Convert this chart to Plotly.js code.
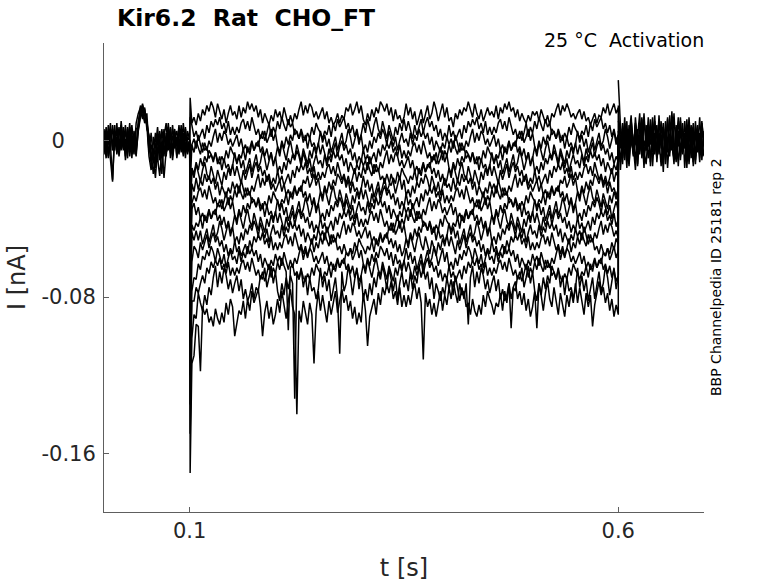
<!DOCTYPE html>
<html>
<head>
<meta charset="utf-8">
<script src="https://cdn.plot.ly/plotly-3.0.1.min.js"></script>
<style>
  html, body { margin: 0; padding: 0; background: #fff; }
  #chart { width: 778px; height: 583px; }
</style>
</head>
<body>
<div id="chart"></div>
<script>
// time in seconds
const tPre = [0,0.0025,0.005,0.0075,0.01,0.0125,0.015,0.0175,0.02,0.0225,0.025,0.0275,0.03,0.0325,0.035,0.0375,0.04,0.0425,0.045,0.0475,
  0.05,0.0525,0.055,0.0575,0.06,0.0625,0.065,0.0675,0.07,0.0725,0.075,0.0775,0.08,0.0825,0.085,0.0875,0.09,0.0925,0.095,0.0975,0.1];

const tStep = [0.1,0.1005,
  0.1025,0.105,0.1075,0.11,0.1125,0.115,0.1175,0.12,0.1225,0.125,
  0.1275,0.13,0.1325,0.135,0.1375,0.14,0.1425,0.145,0.1475,0.15,
  0.1525,0.155,0.1575,0.16,0.1625,0.165,0.1675,0.17,0.1725,0.175,
  0.1775,0.18,0.1825,0.185,0.1875,0.19,0.1925,0.195,0.1975,0.2,
  0.2025,0.205,0.2075,0.21,0.2125,0.215,0.2175,0.22,0.2225,0.225,
  0.2275,0.23,0.2325,0.235,0.2375,0.24,0.2425,0.245,0.2475,0.25,
  0.2525,0.255,0.2575,0.26,0.2625,0.265,0.2675,0.27,0.2725,0.275,
  0.2775,0.28,0.2825,0.285,0.2875,0.29,0.2925,0.295,0.2975,0.3,
  0.3025,0.305,0.3075,0.31,0.3125,0.315,0.3175,0.32,0.3225,0.325,
  0.3275,0.33,0.3325,0.335,0.3375,0.34,0.3425,0.345,0.3475,0.35,
  0.3525,0.355,0.3575,0.36,0.3625,0.365,0.3675,0.37,0.3725,0.375,
  0.3775,0.38,0.3825,0.385,0.3875,0.39,0.3925,0.395,0.3975,0.4,
  0.4025,0.405,0.4075,0.41,0.4125,0.415,0.4175,0.42,0.4225,0.425,
  0.4275,0.43,0.4325,0.435,0.4375,0.44,0.4425,0.445,0.4475,0.45,
  0.4525,0.455,0.4575,0.46,0.4625,0.465,0.4675,0.47,0.4725,0.475,
  0.4775,0.48,0.4825,0.485,0.4875,0.49,0.4925,0.495,0.4975,0.5,
  0.5025,0.505,0.5075,0.51,0.5125,0.515,0.5175,0.52,0.5225,0.525,
  0.5275,0.53,0.5325,0.535,0.5375,0.54,0.5425,0.545,0.5475,0.55,
  0.5525,0.555,0.5575,0.56,0.5625,0.565,0.5675,0.57,0.5725,0.575,
  0.5775,0.58,0.5825,0.585,0.5875,0.59,0.5925,0.595,0.5975,0.6,
  0.6];

const tPost = [0.6,0.6025,0.605,0.6075,0.61,0.6125,0.615,0.6175,0.62,0.6225,0.625,0.6275,0.63,0.6325,0.635,0.6375,0.64,0.6425,0.645,0.6475,
  0.65,0.6525,0.655,0.6575,0.66,0.6625,0.665,0.6675,0.67,0.6725,0.675,0.6775,0.68,0.6825,0.685,0.6875,0.69,0.6925,0.695,0.6975,0.7];

// current in pA before the step (overlapping sweeps)
const pre1_pA = [3,-6,8,-2,-20,5,-4,7,-3,2,-8,6,-1,4,-7,9,14,17,12,16,9,-3,-12,-7,4,-9,-18,-5,6,-8,3,-6,8,-4,2,-7,5,-3,7,-6,0];
const pre2_pA = [-4,7,-8,3,6,-5,9,-7,4,-2,8,-6,3,-9,5,-4,8,18,15,9,11,-6,4,-10,-3,7,-5,-17,2,9,-5,6,-8,4,-3,8,-6,3,-9,5,0];
const pre3_pA = [6,-3,2,-10,-21,4,-6,3,8,-5,1,-9,7,-3,2,-6,5,12,18,14,10,2,-9,-4,-14,3,-6,-2,-19,-5,7,-9,2,6,-8,1,-5,9,-2,-7,0];
const pre4_pA = [-7,4,-2,9,-5,-1,6,-8,2,-4,5,-2,9,-6,1,-3,10,15,19,13,8,-8,-15,2,-6,-11,5,-3,-8,4,-2,7,-5,3,-9,6,-1,4,-6,2,0];
const pre5_pA = [1,-9,5,-5,8,-3,2,-6,10,-1,-4,7,-8,2,-5,6,7,16,11,17,6,3,-6,-17,-9,2,-10,6,-4,-2,9,-3,-7,5,-1,-5,8,-8,3,-3,0];
const pre6_pA = [-2,5,-9,6,-3,8,-7,1,-5,7,-10,3,-4,8,-2,-8,6,13,16,10,14,-5,-2,-9,-19,-4,1,-8,3,-6,-3,4,-10,1,5,-4,2,-7,6,-5,0];

// current in pA after the step back
const post1_pA = [31,8,-6,12,-9,4,13,-7,2,-12,9,-3,14,-5,6,-11,3,10,-8,1,-13,7,-4,11,-6,2,-10,8,-3,12,-7,4,-14,6,-2,9,-8,3,-11,5,-1];
const post2_pA = [0,-11,6,-4,10,-13,3,-8,12,-2,-7,5,-14,8,-3,11,-6,2,-9,13,-4,7,-12,1,9,-5,14,-8,3,-10,6,-1,11,-7,4,-13,2,8,-5,10,-3];
const post3_pA = [5,-15,2,9,-6,-12,7,1,-10,4,14,-9,0,-5,12,-13,6,-2,8,-7,3,-16,10,-4,-8,15,-1,-11,5,-6,9,-14,2,7,-9,3,-12,6,-4,1,-8];
const post4_pA = [18,-4,9,-10,5,-2,11,-6,8,-13,3,-7,10,-1,-9,6,-4,13,-11,4,-2,9,-8,12,-5,1,-12,7,-1,10,-6,3,-9,12,-4,7,-10,2,-7,9,-2];
const post5_pA = [10,6,-9,3,-14,8,-1,-5,9,-8,2,11,-6,-12,4,-2,12,-7,5,-3,10,-10,1,-6,13,-3,-9,4,-13,6,-4,10,-6,-1,8,-11,5,-3,12,-8,3];
const post6_pA = [-5,3,-12,7,1,-8,10,-3,-15,6,-5,12,-9,3,-1,8,-13,4,-6,11,-2,-7,6,-14,3,9,-5,-2,12,-8,1,-4,7,-12,2,-9,10,-6,4,-10,5];

// current in pA during the activation step, one array per sweep
const sweep01_pA = [0,22,
  9,12,8,14,10,16,13,18,15,20,17,12,19,15,11,16,9,14,18,13,
  15,11,18,12,17,14,20,16,19,15,18,12,16,9,14,11,8,13,10,16,
  12,15,10,17,12,8,13,9,14,11,16,20,13,18,14,19,17,12,15,11,
  14,17,11,15,9,12,8,10,14,9,13,11,17,15,19,13,16,20,14,18,
  11,8,14,10,16,12,17,14,20,18,15,19,13,17,10,16,11,13,9,12,
  19,13,17,11,15,8,12,16,9,13,18,11,14,20,16,10,15,19,12,17,
  10,12,7,14,11,16,13,17,15,20,16,12,19,14,11,16,10,14,17,13,
  15,12,18,11,17,14,19,16,20,15,17,12,16,10,14,11,9,13,10,15,
  13,15,10,16,12,9,13,8,14,12,16,19,13,18,15,19,16,12,14,11,
  14,16,11,15,10,12,8,11,14,9,13,12,17,14,19,13,16,19,14,17,0];
const sweep02_pA = [0,12,
  8,2,5,0,3,6,1,8,4,10,7,11,8,12,6,9,4,10,3,7,
  3,7,4,9,11,6,10,5,12,8,3,6,1,5,0,4,9,2,7,4,
  10,6,12,8,5,11,7,9,3,5,1,6,2,0,4,1,7,3,9,6,
  4,1,5,3,8,2,9,5,11,7,10,12,6,9,4,8,2,6,0,3,
  9,4,11,7,2,8,12,6,3,10,5,1,8,4,0,7,3,9,5,11,
  5,10,6,1,8,3,7,11,4,9,12,7,10,5,8,2,6,0,4,1,
  8,2,5,0,3,6,1,8,4,10,7,11,8,12,6,9,4,10,3,7,
  3,7,4,9,11,6,10,5,12,8,3,6,1,5,0,4,9,2,7,4,
  10,6,12,8,5,11,7,9,3,5,1,6,2,0,4,1,7,3,9,6,
  4,1,5,3,8,2,9,5,11,7,10,12,6,9,4,8,2,6,0,3,0];
const sweep03_pA = [0,-10,
  -2,1,-4,3,-2,-6,-1,-5,0,-3,2,6,-1,4,0,5,3,-2,1,-3,
  0,3,-3,1,-5,-2,-6,-4,0,-5,-1,-3,3,1,5,-1,2,6,0,4,
  -3,-6,0,-4,2,-2,3,0,6,4,1,5,-1,3,-4,2,-3,-1,-5,-2,
  5,-1,3,-3,1,-6,-2,2,-5,-1,4,-3,0,6,2,-4,1,5,-2,3,
  -5,-2,-6,0,-4,2,-1,4,1,6,3,-2,5,1,-3,2,-5,0,4,-1,
  1,-3,4,-2,3,0,6,2,5,1,4,-2,2,-5,0,-3,-6,-1,-4,2,
  -2,1,-4,3,-2,-6,-1,-5,0,-3,2,6,-1,4,0,5,3,-2,1,-3,
  0,3,-3,1,-5,-2,-6,-4,0,-5,-1,-3,3,1,5,-1,2,6,0,4,
  -3,-6,0,-4,2,-2,3,0,6,4,1,5,-1,3,-4,2,-3,-1,-5,-2,
  5,-1,3,-3,1,-6,-2,2,-5,-1,4,-3,0,6,2,-4,1,5,-2,3,0];
const sweep04_pA = [0,-25,
  -2,-6,0,-4,-7,-1,-5,-3,-9,-7,-11,-6,-10,-12,-8,-11,-5,-9,-3,-6,
  -8,-11,-7,-9,-4,-10,-3,-7,-1,-5,-2,0,-6,-3,-8,-4,-10,-6,-12,-9,
  -3,-8,-1,-5,-10,-4,0,-6,-9,-2,-7,-11,-4,-8,-12,-5,-9,-3,-7,-1,
  -7,-2,-6,-11,-4,-9,-5,-1,-8,-3,0,-5,-2,-7,-4,-10,-6,-12,-8,-11,
  -4,-10,-7,-12,-9,-6,-11,-4,-8,-2,-5,-1,-4,0,-6,-3,-8,-2,-9,-5,
  -9,-5,-8,-3,-1,-6,-2,-7,0,-4,-9,-6,-11,-7,-12,-8,-3,-10,-5,-8,
  -2,-6,0,-4,-7,-1,-5,-3,-9,-7,-11,-6,-10,-12,-8,-11,-5,-9,-3,-6,
  -8,-11,-7,-9,-4,-10,-3,-7,-1,-5,-2,0,-6,-3,-8,-4,-10,-6,-12,-9,
  -3,-8,-1,-5,-10,-4,0,-6,-9,-2,-7,-11,-4,-8,-12,-5,-9,-3,-7,-1,
  -7,-2,-6,-11,-4,-9,-5,-1,-8,-3,0,-5,-2,-7,-4,-10,-6,-12,-8,-11,0];
const sweep05_pA = [0,-35,
  -14,-17,-11,-15,-9,-13,-8,-11,-5,-7,-10,-6,-12,-8,-15,-9,-14,-12,-16,-13,
  -6,-12,-8,-14,-10,-17,-13,-9,-16,-12,-7,-14,-11,-5,-9,-15,-10,-6,-13,-8,
  -16,-13,-17,-11,-15,-9,-12,-7,-10,-5,-8,-13,-6,-10,-14,-9,-16,-11,-7,-12,
  -10,-14,-7,-13,-8,-11,-5,-9,-6,-10,-7,-13,-9,-16,-11,-14,-17,-12,-15,-9,
  -13,-10,-15,-8,-13,-17,-12,-16,-11,-14,-9,-5,-12,-7,-11,-6,-8,-13,-10,-14,
  -11,-8,-14,-10,-16,-13,-17,-15,-11,-16,-12,-14,-8,-10,-6,-12,-9,-5,-11,-7,
  -14,-17,-11,-15,-9,-13,-8,-11,-5,-7,-10,-6,-12,-8,-15,-9,-14,-12,-16,-13,
  -6,-12,-8,-14,-10,-17,-13,-9,-16,-12,-7,-14,-11,-5,-9,-15,-10,-6,-13,-8,
  -16,-13,-17,-11,-15,-9,-12,-7,-10,-5,-8,-13,-6,-10,-14,-9,-16,-11,-7,-12,
  -10,-14,-7,-13,-8,-11,-5,-9,-6,-10,-7,-13,-9,-16,-11,-14,-17,-12,-15,-9,0];
const sweep06_pA = [0,-45,
  -14,-19,-12,-16,-21,-15,-11,-17,-20,-13,-18,-22,-15,-19,-23,-16,-20,-14,-18,-12,
  -18,-13,-17,-22,-15,-20,-16,-12,-19,-14,-11,-16,-13,-18,-15,-21,-17,-23,-19,-22,
  -15,-21,-18,-23,-20,-17,-22,-15,-19,-13,-16,-12,-15,-11,-17,-14,-19,-13,-20,-16,
  -20,-16,-19,-14,-12,-17,-13,-18,-11,-15,-20,-17,-22,-18,-23,-19,-14,-21,-16,-19,
  -13,-17,-11,-15,-18,-12,-16,-14,-20,-18,-22,-17,-21,-23,-19,-22,-16,-20,-14,-17,
  -19,-22,-18,-20,-15,-21,-14,-18,-12,-16,-13,-11,-17,-14,-19,-15,-21,-17,-23,-20,
  -14,-19,-12,-16,-21,-15,-11,-17,-20,-13,-18,-22,-15,-19,-23,-16,-20,-14,-18,-12,
  -18,-13,-17,-22,-15,-20,-16,-12,-19,-14,-11,-16,-13,-18,-15,-21,-17,-23,-19,-22,
  -15,-21,-18,-23,-20,-17,-22,-15,-19,-13,-16,-12,-15,-11,-17,-14,-19,-13,-20,-16,
  -20,-16,-19,-14,-12,-17,-13,-18,-11,-15,-20,-17,-22,-18,-23,-19,-14,-21,-16,-19,0];
const sweep07_pA = [0,-55,
  -22,-26,-19,-25,-20,-23,-17,-21,-18,-22,-19,-25,-21,-28,-23,-26,-29,-24,-27,-21,
  -25,-22,-27,-20,-25,-29,-24,-28,-23,-26,-21,-17,-24,-19,-23,-18,-20,-25,-22,-26,
  -23,-20,-26,-22,-28,-25,-29,-27,-23,-28,-24,-26,-20,-22,-18,-24,-21,-17,-23,-19,
  -26,-29,-23,-27,-21,-25,-20,-23,-17,-19,-22,-18,-24,-20,-27,-21,-26,-24,-28,-25,
  -18,-24,-20,-26,-22,-29,-25,-21,-28,-24,-19,-26,-23,-17,-21,-27,-22,-18,-25,-20,
  -28,-25,-29,-23,-27,-21,-24,-19,-22,-17,-20,-25,-18,-22,-26,-21,-28,-23,-19,-24,
  -22,-26,-19,-25,-20,-23,-17,-21,-18,-22,-19,-25,-21,-28,-23,-26,-29,-24,-27,-21,
  -25,-22,-27,-20,-25,-29,-24,-28,-23,-26,-21,-17,-24,-19,-23,-18,-20,-25,-22,-26,
  -23,-20,-26,-22,-28,-25,-29,-27,-23,-28,-24,-26,-20,-22,-18,-24,-21,-17,-23,-19,
  -26,-29,-23,-27,-21,-25,-20,-23,-17,-19,-22,-18,-24,-20,-27,-21,-26,-24,-28,-25,0];
const sweep08_pA = [0,-65,
  -32,-28,-31,-26,-24,-29,-25,-30,-23,-27,-32,-29,-34,-30,-35,-31,-26,-33,-28,-31,
  -25,-29,-23,-27,-30,-24,-28,-26,-32,-30,-34,-29,-33,-35,-31,-34,-28,-32,-26,-29,
  -31,-34,-30,-32,-27,-33,-26,-30,-24,-28,-25,-23,-29,-26,-31,-27,-33,-29,-35,-32,
  -26,-31,-24,-28,-33,-27,-23,-29,-32,-25,-30,-34,-27,-31,-35,-28,-32,-26,-30,-24,
  -30,-25,-29,-34,-27,-32,-28,-24,-31,-26,-23,-28,-25,-30,-27,-33,-29,-35,-31,-34,
  -27,-33,-30,-35,-32,-29,-34,-27,-31,-25,-28,-24,-27,-23,-29,-26,-31,-25,-32,-28,
  -32,-28,-31,-26,-24,-29,-25,-30,-23,-27,-32,-29,-34,-30,-35,-31,-26,-33,-28,-31,
  -25,-29,-23,-27,-30,-24,-28,-26,-32,-30,-34,-29,-33,-35,-31,-34,-28,-32,-26,-29,
  -31,-34,-30,-32,-27,-33,-26,-30,-24,-28,-25,-23,-29,-26,-31,-27,-33,-29,-35,-32,
  -26,-31,-24,-28,-33,-27,-23,-29,-32,-25,-30,-34,-27,-31,-35,-28,-32,-26,-30,-24,0];
const sweep09_pA = [0,-75,
  -35,-32,-38,-34,-40,-37,-41,-39,-35,-40,-36,-38,-32,-34,-30,-36,-33,-29,-35,-31,
  -38,-41,-35,-39,-33,-37,-32,-35,-29,-31,-34,-30,-36,-32,-39,-33,-38,-36,-40,-37,
  -30,-36,-32,-38,-34,-41,-37,-33,-40,-36,-31,-38,-35,-29,-33,-39,-34,-30,-37,-32,
  -40,-37,-41,-35,-39,-33,-36,-31,-34,-29,-32,-37,-30,-34,-38,-33,-40,-35,-31,-36,
  -34,-38,-31,-37,-32,-35,-29,-33,-30,-34,-31,-37,-33,-40,-35,-38,-41,-36,-39,-33,
  -37,-34,-39,-32,-37,-41,-36,-40,-35,-38,-33,-29,-36,-31,-35,-30,-32,-37,-34,-38,
  -35,-32,-38,-34,-40,-37,-41,-39,-35,-40,-36,-38,-32,-34,-30,-36,-33,-29,-35,-31,
  -38,-41,-35,-39,-33,-37,-32,-35,-29,-31,-34,-30,-36,-32,-39,-33,-38,-36,-40,-37,
  -30,-36,-32,-38,-34,-41,-37,-33,-40,-36,-31,-38,-35,-29,-33,-39,-34,-30,-37,-32,
  -40,-37,-41,-35,-39,-33,-36,-31,-34,-29,-32,-37,-30,-34,-38,-33,-40,-35,-31,-36,0];
const sweep10_pA = [0,-85,
  -43,-46,-42,-44,-39,-45,-38,-42,-36,-40,-37,-35,-41,-38,-43,-39,-45,-41,-47,-44,
  -38,-43,-36,-40,-45,-39,-35,-41,-44,-37,-42,-46,-39,-43,-47,-40,-44,-38,-42,-36,
  -42,-37,-41,-46,-39,-44,-40,-36,-43,-38,-35,-40,-37,-42,-39,-45,-41,-47,-43,-46,
  -39,-45,-42,-47,-44,-41,-46,-39,-43,-37,-40,-36,-39,-35,-41,-38,-43,-37,-44,-40,
  -44,-40,-43,-38,-36,-41,-37,-42,-35,-39,-44,-41,-46,-42,-47,-43,-38,-45,-40,-43,
  -37,-41,-35,-39,-42,-36,-40,-38,-44,-42,-46,-41,-45,-47,-43,-46,-40,-44,-38,-41,
  -43,-46,-42,-44,-39,-45,-38,-42,-36,-40,-37,-35,-41,-38,-43,-39,-45,-41,-47,-44,
  -38,-43,-36,-40,-45,-39,-35,-41,-44,-37,-42,-46,-39,-43,-47,-40,-44,-38,-42,-36,
  -42,-37,-41,-46,-39,-44,-40,-36,-43,-38,-35,-40,-37,-42,-39,-45,-41,-47,-43,-46,
  -39,-45,-42,-47,-44,-41,-46,-39,-43,-37,-40,-36,-39,-35,-41,-38,-43,-37,-44,-40,0];
const sweep11_pA = [0,-95,
  -47,-51,-46,-51,-46,-53,-49,-45,-52,-48,-43,-50,-47,-41,-45,-51,-46,-42,-49,-44,
  -52,-49,-53,-47,-51,-45,-48,-43,-46,-41,-44,-49,-42,-46,-50,-45,-52,-47,-43,-48,
  -46,-50,-43,-49,-44,-47,-41,-45,-42,-46,-43,-49,-45,-52,-47,-50,-53,-48,-51,-45,
  -49,-46,-51,-44,-49,-53,-48,-52,-47,-50,-45,-41,-48,-43,-47,-42,-44,-49,-46,-50,
  -47,-44,-50,-46,-52,-49,-53,-51,-47,-52,-48,-50,-44,-46,-42,-48,-45,-41,-47,-43,
  -50,-53,-47,-51,-45,-49,-44,-47,-41,-43,-46,-42,-48,-44,-51,-45,-50,-48,-52,-49,
  -42,-48,-44,-50,-46,-53,-49,-45,-52,-48,-43,-50,-47,-41,-45,-51,-46,-42,-49,-44,
  -52,-49,-53,-47,-51,-45,-48,-43,-46,-41,-44,-49,-42,-46,-50,-45,-52,-47,-43,-48,
  -46,-50,-43,-49,-44,-47,-41,-45,-42,-46,-43,-49,-45,-52,-47,-50,-53,-48,-51,-45,
  -49,-46,-51,-44,-49,-53,-48,-52,-47,-50,-45,-41,-48,-43,-47,-42,-44,-49,-46,-50,0];
const sweep12_pA = [0,-105,
  -62,-54,-56,-60,-52,-56,-52,-48,-55,-50,-47,-52,-49,-54,-51,-57,-53,-59,-55,-58,
  -51,-57,-54,-59,-56,-53,-58,-51,-55,-49,-52,-48,-51,-47,-53,-50,-55,-49,-56,-52,
  -56,-52,-55,-50,-48,-53,-49,-54,-47,-51,-56,-53,-58,-54,-59,-55,-50,-57,-52,-55,
  -49,-53,-47,-51,-54,-48,-52,-50,-56,-54,-58,-53,-57,-59,-55,-58,-52,-56,-50,-53,
  -55,-58,-54,-56,-51,-57,-50,-54,-48,-52,-49,-47,-53,-50,-55,-51,-57,-53,-59,-56,
  -50,-55,-48,-52,-57,-51,-47,-53,-56,-49,-54,-58,-51,-55,-59,-52,-56,-50,-54,-48,
  -54,-49,-53,-58,-51,-56,-52,-48,-55,-50,-47,-52,-49,-54,-51,-57,-53,-59,-55,-58,
  -51,-57,-54,-59,-56,-53,-58,-51,-55,-49,-52,-48,-51,-47,-53,-50,-55,-49,-56,-52,
  -56,-52,-55,-50,-48,-53,-49,-54,-47,-51,-56,-53,-58,-54,-59,-55,-50,-57,-52,-55,
  -49,-53,-47,-51,-54,-48,-52,-50,-56,-54,-58,-53,-57,-59,-55,-58,-52,-56,-50,-53,0];
const sweep13_pA = [0,-120,
  -77,-70,-71,-63,-66,-59,-61,-56,-59,-54,-57,-62,-55,-59,-63,-58,-65,-60,-56,-61,
  -59,-63,-56,-62,-57,-60,-54,-58,-55,-59,-56,-62,-58,-65,-60,-63,-66,-61,-64,-58,
  -62,-59,-64,-57,-62,-66,-61,-65,-60,-63,-58,-54,-61,-56,-60,-55,-57,-62,-59,-63,
  -60,-57,-63,-59,-65,-62,-66,-64,-60,-65,-61,-63,-57,-59,-55,-61,-58,-54,-60,-56,
  -63,-66,-60,-64,-58,-62,-57,-60,-54,-56,-59,-55,-61,-57,-64,-58,-63,-61,-65,-62,
  -55,-61,-57,-63,-59,-66,-62,-58,-65,-61,-56,-63,-60,-54,-58,-64,-59,-55,-62,-57,
  -65,-62,-66,-60,-64,-58,-61,-56,-59,-54,-57,-62,-55,-59,-63,-58,-65,-60,-56,-61,
  -59,-63,-56,-62,-57,-60,-54,-58,-55,-59,-56,-62,-58,-65,-60,-63,-66,-61,-64,-58,
  -62,-59,-64,-57,-62,-66,-61,-65,-60,-63,-58,-54,-61,-56,-60,-55,-57,-62,-59,-63,
  -60,-57,-63,-59,-65,-62,-66,-64,-60,-65,-61,-63,-57,-59,-55,-61,-58,-54,-60,-56,0];
const sweep14_pA = [0,-135,
  -82,-82,-75,-78,-73,-69,-73,-65,-68,-62,-65,-61,-64,-60,-66,-63,-68,-62,-69,-65,
  -69,-65,-68,-63,-61,-66,-62,-67,-60,-64,-69,-66,-71,-67,-72,-68,-63,-70,-65,-68,
  -62,-66,-60,-64,-67,-97,-65,-63,-69,-67,-71,-66,-70,-72,-68,-71,-65,-69,-63,-66,
  -68,-71,-67,-69,-64,-70,-63,-67,-61,-65,-62,-60,-66,-63,-68,-64,-70,-66,-72,-69,
  -63,-68,-61,-65,-70,-64,-60,-66,-69,-62,-67,-71,-64,-68,-72,-65,-69,-63,-67,-61,
  -67,-62,-66,-71,-64,-69,-65,-61,-68,-63,-60,-65,-62,-67,-64,-70,-66,-72,-68,-71,
  -64,-70,-67,-72,-69,-66,-71,-64,-68,-62,-65,-61,-64,-60,-66,-63,-68,-62,-69,-65,
  -69,-65,-68,-63,-61,-66,-62,-67,-60,-64,-69,-66,-71,-67,-72,-68,-63,-70,-65,-68,
  -62,-66,-60,-64,-67,-61,-65,-63,-69,-67,-71,-66,-70,-72,-68,-71,-65,-69,-63,-66,
  -68,-71,-67,-69,-64,-70,-63,-67,-61,-65,-62,-60,-66,-63,-68,-64,-70,-66,-72,-69,0];
const sweep15_pA = [0,-150,
  -101,-89,-91,-78,-83,-87,-79,-84,-75,-79,-70,-64,-75,-67,-73,-65,-69,-76,-71,-78,
  -73,-69,-77,-71,-81,-76,-82,-79,-73,-81,-75,-77,-69,-71,-65,-75,-70,-64,-73,-67,
  -77,-82,-73,-79,-70,-76,-69,-73,-132,-67,-71,-65,-75,-69,-79,-70,-77,-75,-81,-76,
  -65,-75,-69,-77,-71,-82,-76,-70,-81,-109,-67,-77,-73,-64,-70,-79,-71,-65,-76,-69,
  -81,-76,-82,-73,-79,-70,-75,-67,-71,-64,-69,-76,-65,-71,-77,-70,-81,-73,-67,-75,
  -71,-77,-67,-76,-69,-73,-64,-70,-65,-71,-67,-76,-70,-81,-73,-77,-82,-75,-79,-70,
  -76,-71,-79,-69,-76,-82,-75,-81,-73,-94,-70,-64,-75,-67,-73,-65,-69,-76,-71,-78,
  -73,-69,-77,-71,-81,-76,-82,-79,-73,-81,-75,-77,-69,-71,-65,-75,-70,-64,-73,-67,
  -77,-82,-73,-79,-70,-76,-69,-73,-64,-67,-71,-65,-75,-69,-79,-70,-77,-75,-81,-76,
  -65,-75,-69,-77,-71,-82,-76,-70,-81,-75,-67,-77,-73,-64,-70,-79,-71,-65,-76,-69,0];
const sweep16_pA = [0,-170,
  -114,-110,-94,-95,-118,-85,-89,-86,-93,-90,-95,-86,-91,-94,-88,-93,-83,-89,-81,-85,
  -100,-93,-87,-89,-82,-91,-81,-87,-77,-83,-79,-76,-85,-100,-88,-82,-91,-85,-94,-89,
  -81,-88,-77,-83,-91,-82,-76,-85,-89,-140,-87,-93,-82,-88,-94,-83,-89,-114,-87,-77,
  -87,-79,-85,-93,-82,-89,-83,-77,-88,-81,-76,-83,-79,-87,-82,-91,-85,-94,-88,-93,
  -78,-87,-105,-90,-85,-81,-89,-78,-84,-75,-79,-73,-78,-72,-81,-77,-84,-75,-85,-79,
  -85,-79,-84,-77,-73,-81,-75,-83,-112,-78,-85,-81,-89,-83,-90,-84,-77,-87,-79,-84,
  -75,-81,-72,-78,-83,-73,-79,-77,-85,-83,-89,-81,-87,-90,-84,-89,-79,-85,-77,-81,
  -84,-89,-83,-85,-78,-87,-77,-83,-73,-96,-75,-72,-81,-77,-84,-78,-87,-81,-90,-85,
  -77,-96,-73,-79,-87,-78,-72,-81,-85,-75,-83,-89,-78,-84,-90,-79,-85,-77,-83,-73,
  -83,-75,-81,-89,-78,-85,-79,-95,-84,-77,-72,-79,-75,-83,-78,-87,-81,-90,-84,-89,0];

const xTickVals = [0.1, 0.6];
const xTickText = ['0.1', '0.6'];
const yTickVals = [0, -0.08, -0.16];
const yTickText = ['0\u2007\u2007\u2009', '-0.08', '-0.16'];

const preSweeps = [pre1_pA, pre2_pA, pre3_pA, pre4_pA, pre5_pA, pre6_pA];
const stepSweeps = [sweep01_pA, sweep02_pA, sweep03_pA, sweep04_pA, sweep05_pA, sweep06_pA, sweep07_pA, sweep08_pA,
  sweep09_pA, sweep10_pA, sweep11_pA, sweep12_pA, sweep13_pA, sweep14_pA, sweep15_pA, sweep16_pA];
const postSweeps = [post1_pA, post2_pA, post3_pA, post4_pA, post5_pA, post6_pA];

function toNA(arr) {
    return arr.map(v => v / 1000);
}

function makeTrace(t, pA) {
    return {
        type: 'scatter',
        mode: 'lines',
        x: t,
        y: toNA(pA),
        line: { color: '#000', width: 1.5 },
        hoverinfo: 'skip',
        showlegend: false
    };
}

let chartData = [];
preSweeps.forEach(s => chartData.push(makeTrace(tPre, s)));
stepSweeps.forEach(s => chartData.push(makeTrace(tStep, s)));
postSweeps.forEach(s => chartData.push(makeTrace(tPost, s)));

const FONT = 'DejaVu Sans, sans-serif';
const AXIS_COLOR = '#5e5e5e';
const TEXT_COLOR = '#262626';

const layout = {
    width: 778,
    height: 583,
    paper_bgcolor: '#fff',
    plot_bgcolor: '#fff',
    margin: { l: 104, r: 74, t: 43, b: 71 },
    font: { family: FONT, color: TEXT_COLOR },
    title: {
        text: '<b>Kir6.2 \u00a0Rat \u00a0CHO_FT</b>',
        font: { family: FONT, size: 23.5, color: '#000' },
        xref: 'container', x: 117 / 778, xanchor: 'left',
        yref: 'container', y: 1 - 18 / 583, yanchor: 'middle'
    },
    xaxis: {
        range: [0, 0.7],
        showgrid: false,
        zeroline: false,
        showline: true,
        linecolor: AXIS_COLOR,
        linewidth: 1,
        ticks: 'inside',
        ticklen: 5,
        tickcolor: AXIS_COLOR,
        tickvals: xTickVals,
        ticktext: xTickText,
        tickfont: { family: FONT, size: 21, color: TEXT_COLOR },
        title: { text: 't [s]', font: { family: FONT, size: 24, color: TEXT_COLOR }, standoff: 16 }
    },
    yaxis: {
        range: [-0.19, 0.05],
        showgrid: false,
        zeroline: false,
        showline: true,
        linecolor: AXIS_COLOR,
        linewidth: 1,
        ticks: 'inside',
        ticklen: 5,
        tickcolor: AXIS_COLOR,
        tickvals: yTickVals,
        ticktext: yTickText,
        tickfont: { family: FONT, size: 21, color: TEXT_COLOR },
        ticklabelstandoff: 3,
        title: { text: 'I [nA]', font: { family: FONT, size: 24, color: TEXT_COLOR }, standoff: 9 }
    },
    annotations: [
        {
            text: '25 °C \u00a0Activation',
            xref: 'paper', yref: 'paper',
            x: 1.003, xanchor: 'right',
            y: (512 - 40) / 469, yanchor: 'middle',
            showarrow: false,
            font: { family: FONT, size: 19, color: '#000' }
        },
        {
            text: 'BBP Channelpedia ID 25181 rep 2',
            xref: 'paper', yref: 'paper',
            x: (716 - 104) / 600, xanchor: 'center',
            y: (512 - 277) / 469, yanchor: 'middle',
            textangle: -90,
            showarrow: false,
            font: { family: FONT, size: 14, color: '#000' }
        }
    ],
    showlegend: false,
    hovermode: false
};

Plotly.newPlot('chart', chartData, layout, { displayModeBar: false, responsive: false });
</script>
</body>
</html>
